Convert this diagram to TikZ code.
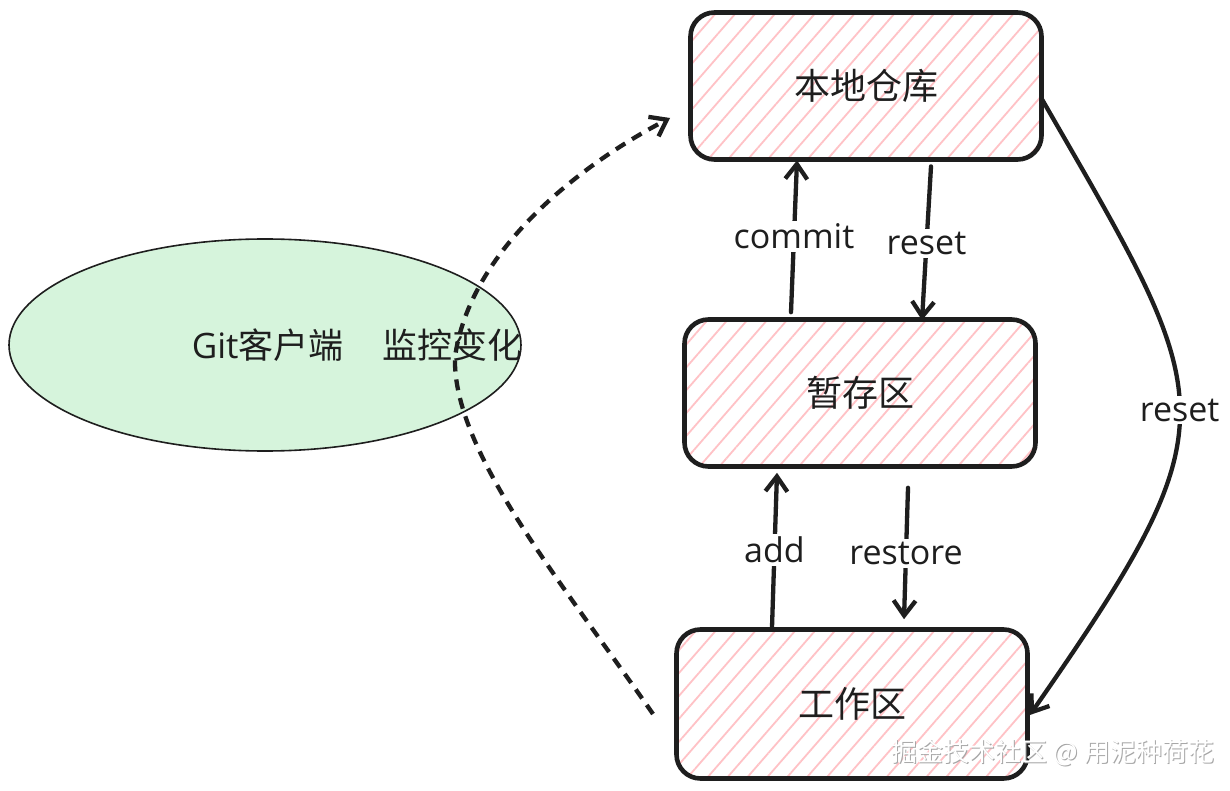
\documentclass[tikz,border=0pt]{standalone}
\usepackage{fontspec}
\setmainfont{Open Sans}
\newfontfamily\cjk{Noto Sans CJK SC}
\usetikzlibrary{arrows.meta,patterns.meta,shapes.geometric}
\definecolor{ink}{HTML}{1E1E1E}
\definecolor{hatch}{HTML}{FFC2C6}
\definecolor{mint}{RGB}{214,244,220}
\begin{document}
\begin{tikzpicture}[x=1pt,y=-1pt,
  box/.style={draw=ink, line width=4.6pt, rounded corners=24pt,
    pattern={Lines[angle=49,distance=15pt,line width=1.8pt]}, pattern color=hatch,
    minimum width=351pt, minimum height=147pt, inner sep=0pt,
    font=\fontsize{36}{42}\cjk, text=ink},
  conn/.style={draw=ink, line width=4.3pt, line cap=round,
    -{Straight Barb[length=15pt,width=22pt,line width=4.3pt]}},
  lbl/.style={fill=white, inner sep=3pt, text=ink, font=\fontsize{34}{40}\selectfont},
  wm/.style={font=\fontsize{26}{30}\cjk, inner sep=0pt}
]
\fill[white] (0,0) rectangle (1230,791);
\useasboundingbox (0,0) rectangle (1230,791);

% ellipse
\node[ellipse, draw=ink, line width=1.6pt, fill=mint, minimum width=512pt, minimum height=212pt] (git) at (265,345) {};

% boxes
\node[box] (repo) at (866,86) {本地仓库};
\node[box] (stage) at (860,393) {暂存区};
\node[box, minimum height=149pt] (work) at (852,704) {工作区};

% vertical arrows
\draw[conn] ([xshift=-69pt,yshift=5pt]stage.north) -- node[lbl]{commit} ([xshift=-69pt]repo.south);
\draw[conn] ([xshift=65pt,yshift=-6pt]repo.south) -- node[lbl, pos=0.5]{reset} ([xshift=62pt,yshift=-3pt]stage.north);
\draw[conn] ([xshift=-80pt]work.north) -- node[lbl]{add} ([xshift=-83pt,yshift=-4pt]stage.south);
\draw[conn] ([xshift=48pt,yshift=-19pt]stage.south) -- node[lbl]{restore} ([xshift=52pt,yshift=8pt]work.north);

% reset curve
\draw[conn] ([yshift=-14pt]repo.east) .. controls (1218,405) and (1237,417) .. node[lbl, pos=0.5]{reset} ([yshift=-11pt]work.east);

% dashed monitoring curve
\coordinate (ds) at (653,714);
\coordinate (de) at (670,118);
\draw[conn, dash pattern=on 11pt off 8pt, line cap=butt] (ds) .. controls (560,580) and (452,450) .. (455,357) .. controls (470,250) and (580,165) .. (de);

% ellipse text
\node[text=ink, font=\fontsize{35}{41}\selectfont, inner sep=0pt] (gittxt) at (357,345) {Git{\cjk 客户端}\hspace{1.1em}{\cjk 监控变化}};

% watermark
\node[wm, text=gray!70] (wmshadow) at (1054,754) {掘金技术社区 @ 用泥种荷花};
\node[wm, text=white] (wmtext) at (1053,753) {掘金技术社区 @ 用泥种荷花};
\end{tikzpicture}
\end{document}
